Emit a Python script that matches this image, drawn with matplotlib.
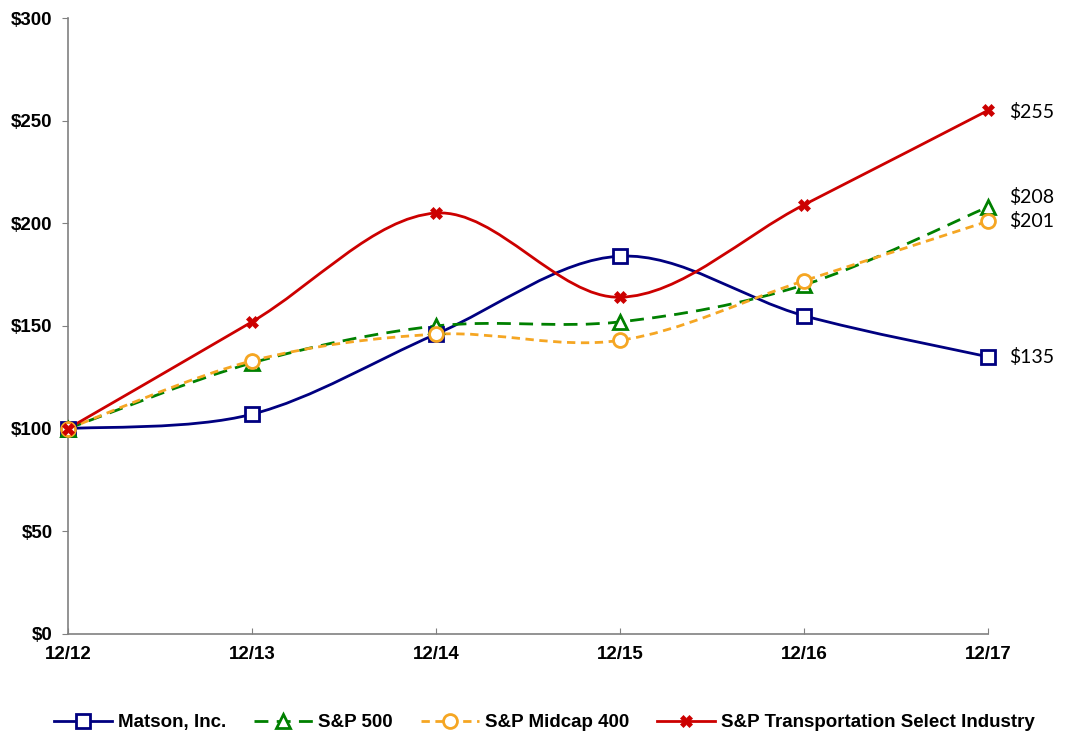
import numpy as np
import matplotlib.pyplot as plt
from matplotlib.path import Path
from matplotlib.patches import PathPatch

periods = ["12/12", "12/13", "12/14", "12/15", "12/16", "12/17"]
matson = [100, 107, 146, 184, 155, 135]
sp500 = [100, 132, 150, 152, 170, 208]
midcap = [100, 133, 146, 143, 172, 201]
transport = [100, 152, 205, 164, 209, 255]

end_labels = ["$135", "$208", "$201", "$255"]


def smooth_path(xs, ys):
    # Excel-like smoothed line: cubic bezier through the points
    pts = np.column_stack([xs, ys]).astype(float)
    n = len(pts)
    verts = [pts[0]]
    codes = [Path.MOVETO]
    for i in range(n - 1):
        p0 = pts[i - 1] if i > 0 else pts[i]
        p1 = pts[i]
        p2 = pts[i + 1]
        p3 = pts[i + 2] if i + 2 < n else pts[i + 1]
        c1 = p1 + (p2 - p0) / 6.0
        c2 = p2 - (p3 - p1) / 6.0
        verts += [c1, c2, p2]
        codes += [Path.CURVE4] * 3
    return Path(verts, codes)


plt.rcParams['font.family'] = ['Liberation Sans', 'DejaVu Sans']

fig = plt.figure(figsize=(10.78, 7.38), dpi=100)
ax = fig.add_axes([0.063, 0.141, 0.8535, 0.8346])

x = np.arange(len(periods))
series = [
    ("Matson, Inc.", matson, "#000080", "-", "s", dict(mfc="white", ms=10, mew=2)),
    ("S&P 500", sp500, "#008000", (0, (5, 3)), "^", dict(mfc="white", ms=10, mew=2)),
    ("S&P Midcap 400", midcap, "#F5A623", (0, (3, 2)), "o", dict(mfc="white", ms=10, mew=2)),
    ("S&P Transportation Select Industry", transport, "#CC0000", "-", "X", dict(mfc="#CC0000", ms=8, mew=0.5)),
]

for name, vals, col, ls, mk, mkw in series:
    p = smooth_path(x, vals)
    ax.add_patch(PathPatch(p, facecolor="none", edgecolor=col, lw=2.0, linestyle=ls,
                           zorder=2, clip_on=False))
    ax.plot(x, vals, linestyle="none", marker=mk, color=col, mec=col, zorder=3,
            clip_on=False, **mkw)
    ax.plot([], [], color=col, linestyle=ls, lw=2.0, marker=mk, mec=col, label=name, **mkw)

# right-side value labels
ends = [matson[-1], sp500[-1], midcap[-1], transport[-1]]
dys = [0, 7, 0, -1]
for lab, v, dy in zip(end_labels, ends, dys):
    ax.annotate(lab, (x[-1], v), xytext=(15, dy), textcoords="offset points",
                va="center", fontsize=14, family="Lato", annotation_clip=False)

ax.set_xlim(0, len(periods) - 1)
ax.set_ylim(0, 300)
ax.set_xticks(x)
ax.set_xticklabels(periods, fontweight="bold", fontsize=13.5)
ax.set_yticks(np.arange(0, 301, 50))
ax.set_yticklabels(["$%d" % v for v in range(0, 301, 50)], fontweight="bold", fontsize=13.5)
ax.tick_params(axis="x", direction="in", length=4, color="#808080", pad=9)
ax.tick_params(axis="y", direction="out", length=4, color="#808080", pad=7)

for s in ["top", "right"]:
    ax.spines[s].set_visible(False)
for s in ["left", "bottom"]:
    ax.spines[s].set_color("#808080")
    ax.spines[s].set_linewidth(1.2)

leg = fig.legend(loc="center", bbox_to_anchor=(0.505, 0.021), ncol=4, frameon=False,
                 prop={"weight": "bold", "size": 13.5}, handlelength=3.1, columnspacing=1.5,
                 handletextpad=0.3)

fig.savefig("out.png", dpi=100)
